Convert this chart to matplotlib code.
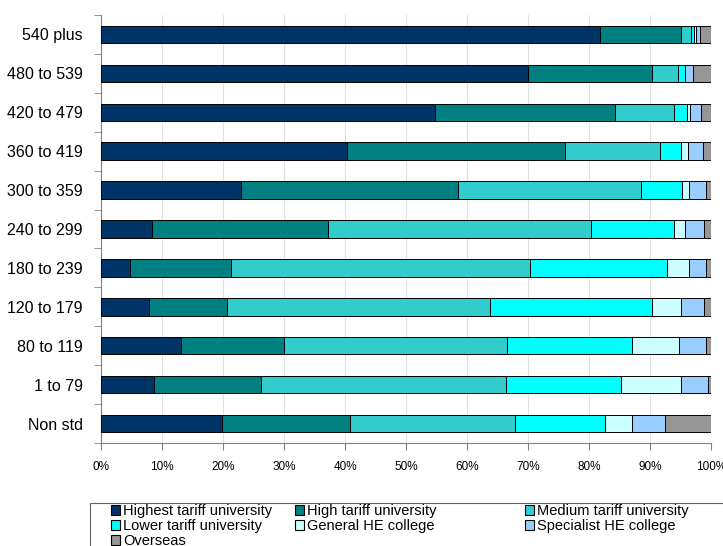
import numpy as np
import matplotlib.pyplot as plt
from matplotlib.patches import Patch, Rectangle

plt.rcParams['font.family'] = ['Liberation Sans', 'DejaVu Sans']

# Tariff point bands (top to bottom as shown)
categories = ['540 plus', '480 to 539', '420 to 479', '360 to 419', '300 to 359',
              '240 to 299', '180 to 239', '120 to 179', '80 to 119', '1 to 79', 'Non std']

series_names = ['Highest tariff university', 'High tariff university', 'Medium tariff university',
                'Lower tariff university', 'General HE college', 'Specialist HE college', 'Overseas']

# percentage shares per band
highest = [81.8, 70.0, 54.8, 40.3, 23.0, 8.4, 4.8, 7.9, 13.1, 8.7, 19.8]
high = [13.3, 20.4, 29.4, 35.7, 35.5, 28.8, 16.5, 12.8, 16.9, 17.5, 21.0]
medium = [1.7, 4.2, 9.8, 15.7, 30.1, 43.2, 49.0, 43.1, 36.6, 40.2, 27.1]
lower = [0.4, 1.1, 2.1, 3.4, 6.7, 13.5, 22.5, 26.6, 20.5, 18.9, 14.7]
general = [0.4, 0.1, 0.5, 1.1, 1.1, 1.9, 3.6, 4.7, 7.7, 9.8, 4.5]
specialist = [0.6, 1.3, 1.7, 2.5, 2.8, 3.1, 2.7, 3.7, 4.4, 4.4, 5.4]
overseas = [1.8, 2.9, 1.7, 1.3, 0.8, 1.1, 0.9, 1.2, 0.8, 0.5, 7.5]

colors = ['#003366', '#008080', '#33CCCC', '#00FFFF', '#CCFFFF', '#99CCFF', '#969696']

data = np.array([highest, high, medium, lower, general, specialist, overseas])
data = data / data.sum(axis=0) * 100  # each bar sums to 100%

W, H = 723, 546
fig = plt.figure(figsize=(W / 100, H / 100), dpi=100)
ax = fig.add_axes([101 / W, 1 - 443 / H, 610 / W, (443 - 15) / H])

y = np.arange(len(categories))[::-1]
left = np.zeros(len(categories))
for vals, col in zip(data, colors):
    ax.barh(y, vals, left=left, height=0.45, color=col, edgecolor='black', linewidth=0.7, zorder=3)
    left += vals

ax.set_xlim(0, 100)
ax.set_ylim(-0.5, len(categories) - 0.5)
ax.set_xticks(np.arange(0, 101, 10))
ax.set_xticklabels([f'{v}%' for v in range(0, 101, 10)], fontsize=8.5)
ax.xaxis.grid(True, color='#e0e0e0', linewidth=0.8, zorder=0)

ax.set_yticks(y)
ax.set_yticklabels(categories, fontsize=11.5)
ax.tick_params(axis='y', length=0, pad=13)
ax.set_yticks(np.arange(-0.5, len(categories), 1), minor=True)
ax.tick_params(axis='y', which='minor', length=5, color='#808080', direction='out')
ax.tick_params(axis='x', length=5, color='#808080', direction='out', pad=8)

for s in ['top', 'right']:
    ax.spines[s].set_visible(False)
for s in ['left', 'bottom']:
    ax.spines[s].set_color('#808080')

# legend frame (Excel style, runs off the bottom/right edge)
fig.patches.append(Rectangle((90 / W, 1 - 560 / H), 660 / W, 57 / H, transform=fig.transFigure,
                             facecolor='white', edgecolor='#606060', linewidth=0.8))

col_x = [108, 292, 522]
col_items = [[0, 3, 6], [1, 4], [2, 5]]
for cx, items in zip(col_x, col_items):
    handles = [Patch(facecolor=colors[i], edgecolor='black', linewidth=0.8) for i in items]
    fig.legend(handles, [series_names[i] for i in items], loc='upper left',
               bbox_to_anchor=(cx / W, 1 - 501 / H), frameon=False, fontsize=10.5,
               handlelength=0.65, handleheight=0.65, handletextpad=0.2,
               labelspacing=0.08, borderpad=0.2, borderaxespad=0)

fig.savefig('out.png', dpi=100)
